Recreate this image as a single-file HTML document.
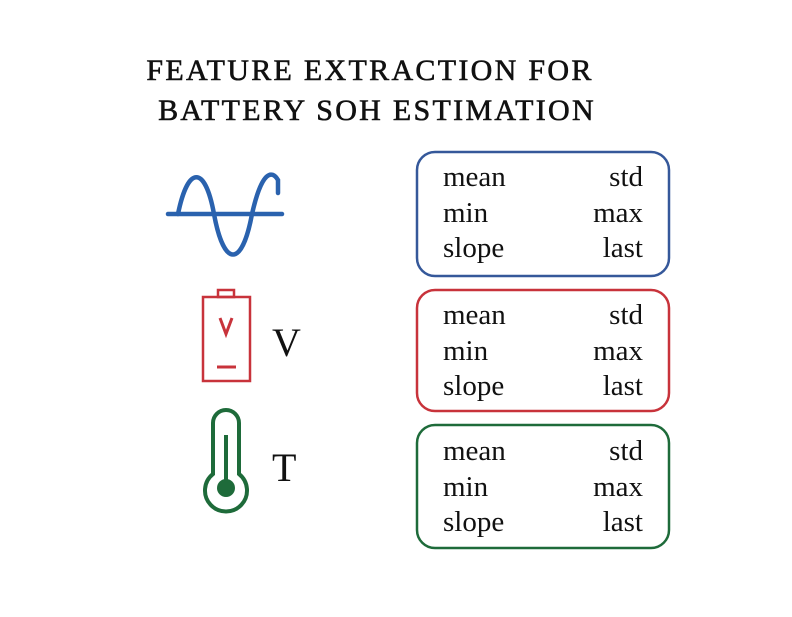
<!DOCTYPE html>
<html><head><style>
body{margin:0;background:#fff;}
</style></head><body>
<svg width="792" height="612" xmlns="http://www.w3.org/2000/svg">
<g font-family="Liberation Serif, serif" fill="#111" stroke="#111" stroke-width="0.6">
<text x="370" y="80" font-size="30" text-anchor="middle" letter-spacing="2.3">FEATURE EXTRACTION FOR</text>
<text x="377" y="120" font-size="30" text-anchor="middle" letter-spacing="2.3">BATTERY SOH ESTIMATION</text>
</g>
<!-- sine -->
<g stroke="#2a62ae" stroke-width="4.5" fill="none" stroke-linecap="round">
<line x1="168" y1="214" x2="282" y2="214"/>
<path d="M178,214 C188,165 205,165 214,214 C224,268 242,268 252,214 C262,170 272,170 278,180 L278,193"/>
</g>
<!-- battery -->
<g stroke="#c8333b" stroke-width="2.5" fill="none">
<rect x="203" y="297" width="47" height="84"/>
<rect x="218" y="290" width="16" height="7"/>
<path d="M220,318 L226,334 L232,318" stroke-width="3"/>
<line x1="217" y1="367" x2="236" y2="367" stroke-width="3"/>
</g>
<text x="272" y="356" font-family="Liberation Serif, serif" font-size="40" fill="#111">V</text>
<!-- thermometer -->
<g stroke="#1e6b3a" stroke-width="4" fill="none">
<path d="M213,474 L213,423 A13,13 0 0 1 239,423 L239,474 A21,21 0 1 1 213,474 Z"/>
<line x1="226" y1="435" x2="226" y2="485" stroke-width="4"/>
</g>
<circle cx="226" cy="488" r="9" fill="#1e6b3a"/>
<text x="272" y="481" font-family="Liberation Serif, serif" font-size="40" fill="#111">T</text>
<!-- boxes -->
<rect x="417" y="152" width="252" height="124" rx="18" fill="none" stroke="#35589a" stroke-width="2.5"/>
<rect x="417" y="290" width="252" height="121" rx="18" fill="none" stroke="#c8333b" stroke-width="2.5"/>
<rect x="417" y="425" width="252" height="123" rx="18" fill="none" stroke="#1e6b3a" stroke-width="2.5"/>
<g font-family="Liberation Serif, serif" font-size="29" fill="#111">
<text x="443" y="186">mean</text><text x="643" y="186" text-anchor="end">std</text>
<text x="443" y="222">min</text><text x="643" y="222" text-anchor="end">max</text>
<text x="443" y="257">slope</text><text x="643" y="257" text-anchor="end">last</text>
<text x="443" y="324">mean</text><text x="643" y="324" text-anchor="end">std</text>
<text x="443" y="360">min</text><text x="643" y="360" text-anchor="end">max</text>
<text x="443" y="395">slope</text><text x="643" y="395" text-anchor="end">last</text>
<text x="443" y="460">mean</text><text x="643" y="460" text-anchor="end">std</text>
<text x="443" y="496">min</text><text x="643" y="496" text-anchor="end">max</text>
<text x="443" y="531">slope</text><text x="643" y="531" text-anchor="end">last</text>
</g>
</svg>
</body></html>
